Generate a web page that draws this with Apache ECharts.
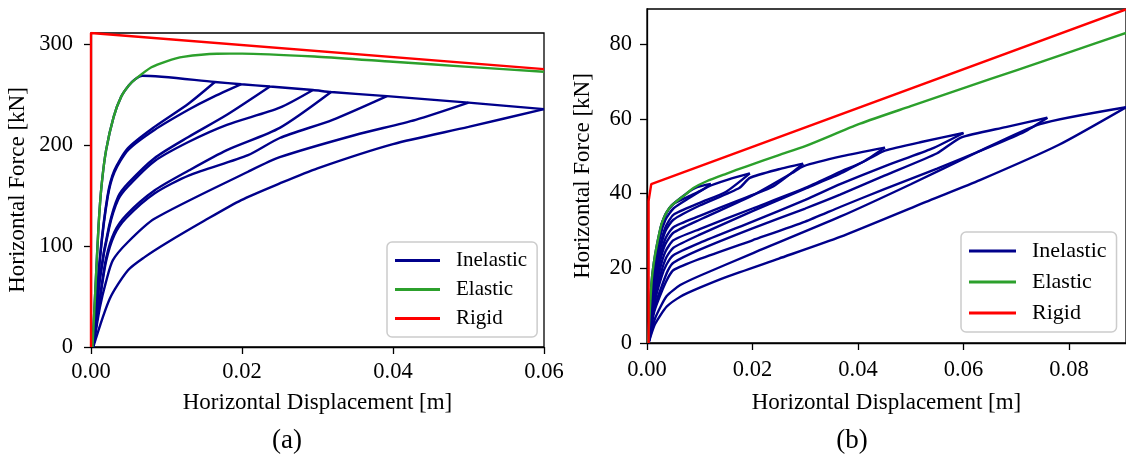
<!DOCTYPE html>
<html>
<head>
<meta charset="utf-8">
<script src="https://cdn.jsdelivr.net/npm/echarts@6/dist/echarts.min.js"></script>
<style>
html, body { margin: 0; padding: 0; background: #fff; }
#chart { width: 1126px; height: 463px; }
</style>
</head>
<body>
<div id="chart"></div>
<script>
// ---- panel (a) ----
var aRigid = [[0, 0], [0, 311], [0.06, 275.2]];
var aElastic = [[0.0002, 0], [0.0006, 60], [0.001, 120], [0.0014, 160], [0.002, 195], [0.003, 228], [0.004, 248],
  [0.005, 259], [0.006, 266], [0.008, 277], [0.01, 283], [0.0122, 287.4], [0.0167, 290.5], [0.02, 290.6],
  [0.03, 287.5], [0.04, 282.5], [0.05, 277.5], [0.06, 272.6]];
var aLoading = [[0.0002, 0], [0.0006, 60], [0.001, 120], [0.0014, 160], [0.002, 195], [0.003, 228], [0.004, 248],
  [0.005, 259], [0.0058, 265], [0.0068, 268.6], [0.0164, 262.5], [0.0199, 260.3], [0.0237, 258], [0.0294, 254.5],
  [0.0318, 252.5], [0.0392, 248.5], [0.05, 242], [0.06, 235.6]];
var aCycle1 = [[0.0003, 0], [0.0012, 90], [0.0022, 150], [0.0031, 175], [0.0049, 197], [0.0084, 218], [0.0129, 241], [0.0164, 262.5]];
var aCycle2 = [[0.0003, 0], [0.0012, 88], [0.0022, 148], [0.0031, 173], [0.0049, 195], [0.0084, 215], [0.0129, 235], [0.016, 247], [0.0199, 260.3]];
var aCycle3 = [[0.0003, 0], [0.0012, 70], [0.0024, 120], [0.0036, 149], [0.0049, 162], [0.0084, 187], [0.0129, 208], [0.018, 230], [0.0237, 258]];
var aCycle4 = [[0.0003, 0], [0.0012, 68], [0.0024, 118], [0.0036, 146], [0.0049, 159], [0.0084, 184], [0.0129, 203], [0.018, 220], [0.025, 237], [0.0294, 254.5]];
var aCycle5 = [[0.0003, 0], [0.0012, 50], [0.002, 88], [0.0031, 114], [0.0047, 131], [0.0084, 155], [0.013, 175], [0.018, 195], [0.025, 217], [0.0318, 252.5]];
var aCycle6 = [[0.0003, 0], [0.0012, 48], [0.002, 85], [0.0031, 111], [0.0047, 128], [0.0084, 152], [0.013, 170], [0.0208, 190], [0.025, 207], [0.032, 225], [0.0392, 248.5]];
var aCycle7 = [[0.0003, 0], [0.0012, 40], [0.002, 65], [0.0029, 86], [0.0049, 104], [0.0084, 127], [0.0208, 173.6], [0.025, 188], [0.035, 210], [0.043, 225], [0.05, 242]];
var aCycle8 = [[0.0003, 0], [0.0025, 48], [0.0049, 76], [0.0071, 89], [0.01, 103], [0.015, 125], [0.0199, 145.5], [0.025, 162],
  [0.03, 177], [0.04, 201], [0.05, 218], [0.06, 235.6]];

// ---- panel (b) ----
var bRigid = [[0.0003, 0], [0.0003, 38], [0.0008, 42.5], [0.0908, 89.3]];
var bElastic = [[0.0002, 0], [0.0005, 8], [0.0009, 16.8], [0.0013, 21.5], [0.0018, 25.7], [0.0028, 32], [0.0044, 36.4],
  [0.0075, 40], [0.0088, 41.5], [0.0113, 43.3], [0.015, 45.3], [0.0189, 47.3], [0.025, 50.3], [0.03, 52.7],
  [0.0404, 58.7], [0.05, 63.4], [0.06, 68.2], [0.07, 73], [0.08, 77.8], [0.0908, 83]];
// loading branches (reach each tip from below) and unloading branches (leave each tip)
var bLoad1 = [[0.0002, 0], [0.0005, 8], [0.0009, 16.8], [0.0013, 21.5], [0.0018, 25.7], [0.0028, 32], [0.0044, 36.4],
  [0.0075, 40], [0.0095, 41.7], [0.0121, 42.6]];
var bUnload1 = [[0.0003, 0], [0.0012, 18], [0.0025, 30], [0.0035, 34.5], [0.005, 37.2], [0.008, 39.3], [0.0105, 41], [0.0121, 42.6]];
var bLoad2 = [[0.0003, 0], [0.0012, 17], [0.0025, 28.5], [0.0035, 33], [0.005, 36], [0.008, 38.8], [0.0115, 41.8], [0.0155, 43.8], [0.0195, 45.4]];
var bUnload2 = [[0.0003, 0], [0.0012, 15], [0.0025, 26], [0.0035, 31], [0.005, 34.3], [0.01, 37.5], [0.015, 40.5], [0.0195, 45.4]];
var bLoad3 = [[0.0003, 0], [0.0012, 14.5], [0.0025, 25], [0.0035, 30], [0.005, 33], [0.01, 36.8], [0.0175, 41.5], [0.0195, 44.2], [0.025, 46.5], [0.0296, 48]];
var bUnload3 = [[0.0003, 0], [0.0012, 13], [0.0025, 23], [0.0035, 28], [0.005, 31], [0.01, 34], [0.017, 38], [0.024, 42], [0.0296, 48]];
var bLoad4 = [[0.0003, 0], [0.0012, 12.5], [0.0025, 22], [0.0035, 26.5], [0.005, 29.5], [0.01, 33], [0.02, 39.5], [0.0275, 45.5], [0.0296, 47.3], [0.037, 50], [0.0451, 52.3]];
var bUnload4 = [[0.0003, 0], [0.0012, 11], [0.0025, 20], [0.0035, 24.5], [0.005, 27.5], [0.01, 30.5], [0.02, 36], [0.03, 41.5], [0.0366, 45.8], [0.041, 48.5], [0.0451, 52.3]];
var bLoad5 = [[0.0003, 0], [0.0013, 11], [0.0027, 19], [0.0037, 23], [0.005, 25.5], [0.01, 29], [0.02, 35.3], [0.03, 41.3], [0.0366, 45.3], [0.043, 50], [0.0451, 51.5], [0.052, 53.8], [0.06, 56.2]];
var bUnload5 = [[0.0003, 0], [0.0013, 10], [0.0027, 17.5], [0.0037, 21], [0.005, 23.5], [0.01, 26.8], [0.02, 32.5], [0.03, 38.3], [0.0366, 42.5], [0.045, 47.3], [0.054, 52], [0.06, 56.2]];
var bLoad6 = [[0.0003, 0], [0.0014, 9.5], [0.003, 16], [0.004, 19.5], [0.005, 21.5], [0.01, 25], [0.02, 30.7], [0.03, 36], [0.0366, 39.7], [0.045, 44.8], [0.055, 50.8], [0.0595, 55], [0.068, 57.8], [0.0759, 60.3]];
var bUnload6 = [[0.0003, 0], [0.0014, 8.5], [0.003, 14.5], [0.004, 17.5], [0.005, 19.5], [0.01, 22.5], [0.02, 27.5], [0.03, 32.5], [0.0366, 36.4], [0.045, 41.2], [0.055, 46.7], [0.065, 52.5], [0.0715, 56.5], [0.0759, 60.3]];
var bLoad7 = [[0.0003, 0], [0.0015, 6.5], [0.0037, 12.5], [0.0063, 15.5], [0.01, 18], [0.02, 24], [0.0366, 33.8], [0.05, 42.5], [0.0625, 51], [0.0745, 58.6], [0.0908, 63.1]];
var bUnload7 = [[0.0003, 0], [0.0015, 5], [0.0037, 9.7], [0.0063, 12.4], [0.01, 14.8], [0.0151, 17.7], [0.025, 22.6],
  [0.0366, 28.4], [0.0536, 38.2], [0.0631, 43.6], [0.078, 53], [0.0908, 63.1]];

var aInelastic = [aLoading, aCycle1, aCycle2, aCycle3, aCycle4, aCycle5, aCycle6, aCycle7, aCycle8];
var bInelastic = [bLoad1, bUnload1, bLoad2, bUnload2, bLoad3, bUnload3, bLoad4, bUnload4,
  bLoad5, bUnload5, bLoad6, bUnload6, bLoad7, bUnload7];

var xTicksA = { min: 0, max: 0.06, interval: 0.02 };
var yTicksA = { min: 0, max: 311, interval: 100 };
var xTicksB = { min: 0, max: 0.0908, interval: 0.02 };
var yTicksB = { min: 0, max: 89.4, interval: 20 };

var FONT = "'Liberation Serif', 'DejaVu Serif', serif";
var BLUE = '#00008b', GREEN = '#2ca02c', RED = '#ff0000';

function curve(name, data, color, idx, smooth) {
  return {
    name: name, type: 'line', data: data, xAxisIndex: idx, yAxisIndex: idx,
    symbol: 'none', smooth: smooth, silent: true, clip: true,
    lineStyle: { color: color, width: 2.4 }, itemStyle: { color: color }
  };
}

function xAxisOf(idx, ticks, labelMargin, nameGap) {
  return {
    type: 'value', gridIndex: idx, min: ticks.min, max: ticks.max, interval: ticks.interval,
    name: 'Horizontal Displacement [m]', nameLocation: 'middle', nameGap: nameGap,
    nameTextStyle: { fontFamily: FONT, fontSize: 23, color: '#000' },
    axisLine: { lineStyle: { color: '#000', width: 1.3 } },
    axisTick: { show: true, inside: false, length: 7, lineStyle: { color: '#000', width: 1.3 } },
    axisLabel: { fontFamily: FONT, fontSize: 22.5, color: '#000', margin: labelMargin, showMaxLabel: idx === 0,
      formatter: function (v) { return v.toFixed(2); } },
    splitLine: { show: false }
  };
}

function yAxisOf(idx, ticks, gap, labelMargin) {
  return {
    type: 'value', gridIndex: idx, min: ticks.min, max: ticks.max, interval: ticks.interval,
    name: 'Horizontal Force [kN]', nameLocation: 'middle', nameGap: gap, nameRotate: 90,
    nameTextStyle: { fontFamily: FONT, fontSize: 23, color: '#000' },
    axisLine: { lineStyle: { color: '#000', width: 1.3 } },
    axisTick: { show: true, inside: false, length: 7, lineStyle: { color: '#000', width: 1.3 } },
    axisLabel: { fontFamily: FONT, fontSize: 22.5, color: '#000', margin: labelMargin, showMaxLabel: false },
    splitLine: { show: false }
  };
}

function legendOf(left, top, gap, size, width) {
  return {
    data: ['Inelastic', 'Elastic', 'Rigid'], orient: 'vertical', left: left, top: top,
    icon: 'rect', itemWidth: width, itemHeight: 3, itemGap: gap,
    textStyle: { fontFamily: FONT, fontSize: size, color: '#000', padding: [0, 0, 0, 11] },
    backgroundColor: '#fff', borderColor: '#cccccc', borderWidth: 1.5, borderRadius: 5,
    padding: [8, 10, 8, 8], selectedMode: false
  };
}

var series = [];
aInelastic.forEach(function (d) { series.push(curve('Inelastic', d, BLUE, 0, 0.25)); });
series.push(curve('Elastic', aElastic, GREEN, 0, 0.25));
series.push(curve('Rigid', aRigid, RED, 0, false));
bInelastic.forEach(function (d) { series.push(curve('Inelastic', d, BLUE, 1, 0.2)); });
series.push(curve('Elastic', bElastic, GREEN, 1, 0.25));
series.push(curve('Rigid', bRigid, RED, 1, false));

var chart = echarts.init(document.getElementById('chart'), null, { renderer: 'canvas' });
chart.setOption({
  animation: false,
  backgroundColor: '#fff',
  grid: [
    { left: 91, top: 33, width: 453, height: 314, show: true, borderColor: '#000', borderWidth: 1.3, backgroundColor: 'transparent' },
    { left: 647, top: 9, width: 479, height: 334, show: true, borderColor: '#000', borderWidth: 1.3, backgroundColor: 'transparent' }
  ],
  xAxis: [xAxisOf(0, xTicksA, 14, 44), xAxisOf(1, xTicksB, 16, 48)],
  yAxis: [yAxisOf(0, yTicksA, 62, 18), yAxisOf(1, yTicksB, 53, 15)],
  legend: [legendOf(387, 242, 8, 21, 45), legendOf(961, 232, 9, 22, 47)],
  graphic: [
    { type: 'text', style: { x: 287, y: 441, text: '(a)', font: "27px 'Liberation Serif', serif", fill: '#000', textAlign: 'center', textVerticalAlign: 'middle' } },
    { type: 'text', style: { x: 852, y: 441, text: '(b)', font: "27px 'Liberation Serif', serif", fill: '#000', textAlign: 'center', textVerticalAlign: 'middle' } }
  ],
  series: series
});
</script>
</body>
</html>
